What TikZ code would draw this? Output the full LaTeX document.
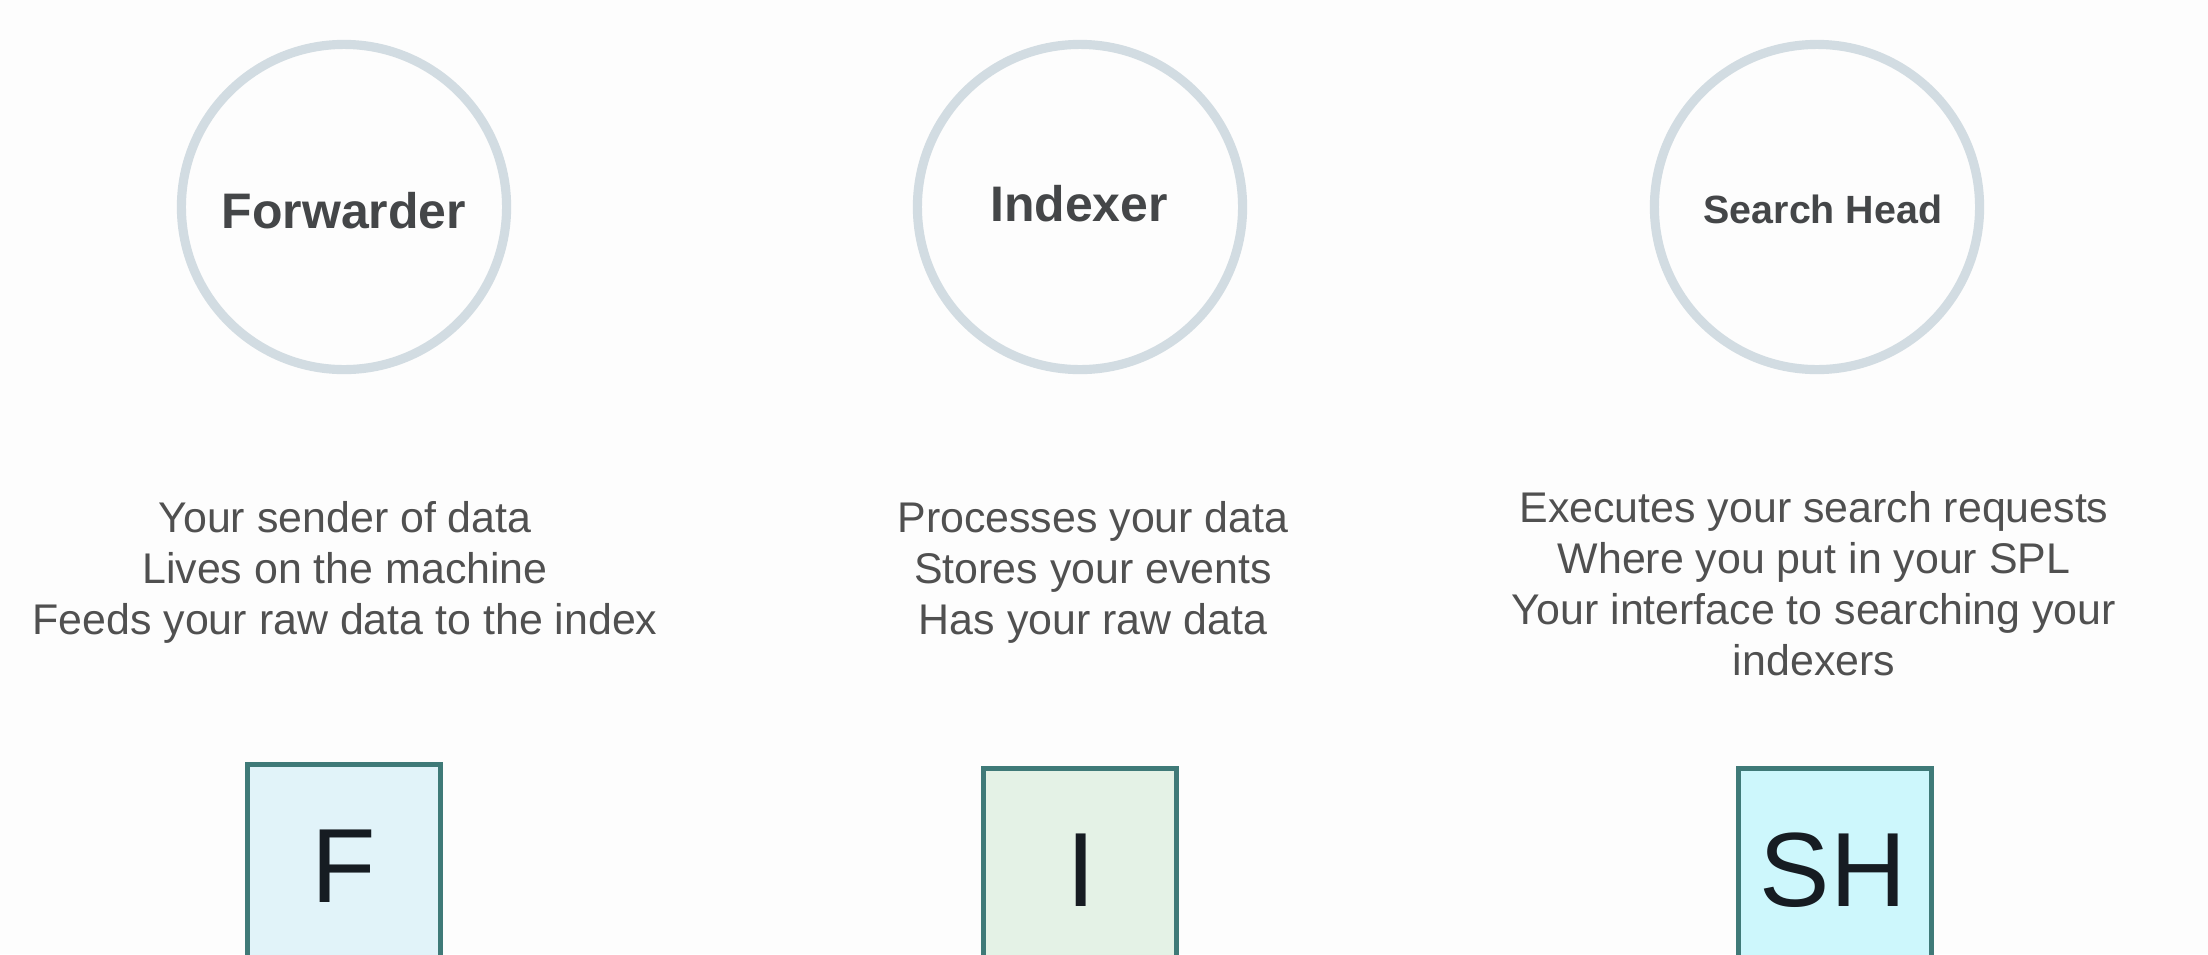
\documentclass[tikz,border=0pt]{standalone}
\usepackage{fontspec}
\setmainfont{Liberation Sans}
\usepackage{tikz}
\usetikzlibrary{shapes}

\definecolor{bgcol}{HTML}{FDFDFD}
\definecolor{ringcol}{HTML}{D2DCE2}
\definecolor{titlecol}{HTML}{444648}
\definecolor{desccol}{HTML}{505050}
\definecolor{edgecol}{HTML}{3F7A78}
\definecolor{lettercol}{HTML}{161C22}
\definecolor{fcol}{HTML}{E1F3F9}
\definecolor{icol}{HTML}{E4F2E6}
\definecolor{shcol}{HTML}{CDF7FC}

\begin{document}
\begin{tikzpicture}[x=0.01cm, y=-0.01cm,
        ring/.style={circle,draw=ringcol,line width=2.6pt,minimum size=3.25cm,inner sep=0pt},
        title/.style={text=titlecol,font=\bfseries\fontsize{14.2}{16}\selectfont},
        desc/.style={text=desccol,align=center,inner sep=0pt,font=\fontsize{12.2}{14.5}\selectfont},
        unitbox/.style={rectangle,draw=edgecol,line width=1.4pt,minimum width=1.92cm,minimum height=2.6cm},
        letter/.style={text=lettercol,inner sep=0pt,font=\fontsize{30}{34}\selectfont}]
        % page and clip
        \useasboundingbox[fill=bgcol] (0,0) rectangle (2208,954);
        \clip (0,0) rectangle (2208,954);
        % the three rings with their names
        \node[ring] (fring) at (344,207) {};
        \node[ring] (iring) at (1080,207) {};
        \node[ring] (shring) at (1817,207) {};
        \node[title] (ftitle) at (344,211) {Forwarder};
        \node[title] (ititle) at (1079,204) {Indexer};
        \node[title,font=\bfseries\fontsize{11.2}{13}\selectfont] (shtitle) at (1823,209) {Search Head};
        % what each one does
        \node[desc] (fdesc) at (345,572) {Your sender of data\\Lives on the machine\\Feeds your raw data to the index};
        \node[desc] (idesc) at (1093,572) {Processes your data\\Stores your events\\Has your raw data};
        \node[desc] (shdesc) at (1814,584) {Executes your search requests\\Where you put in your SPL\\Your interface to searching your\\indexers};
        % boxes at the bottom, cut by the page edge
        \node[unitbox,fill=fcol] (fbox) at (344,895) {};
        \node[unitbox,fill=icol] (ibox) at (1080,899) {};
        \node[unitbox,fill=shcol] (shbox) at (1835,899) {};
        \node[letter] (fletter) at (344,866) {F};
        \node[letter] (iletter) at (1081,870) {I};
        \node[letter] (shletter) at (1833,870) {SH};
\end{tikzpicture}
\end{document}
